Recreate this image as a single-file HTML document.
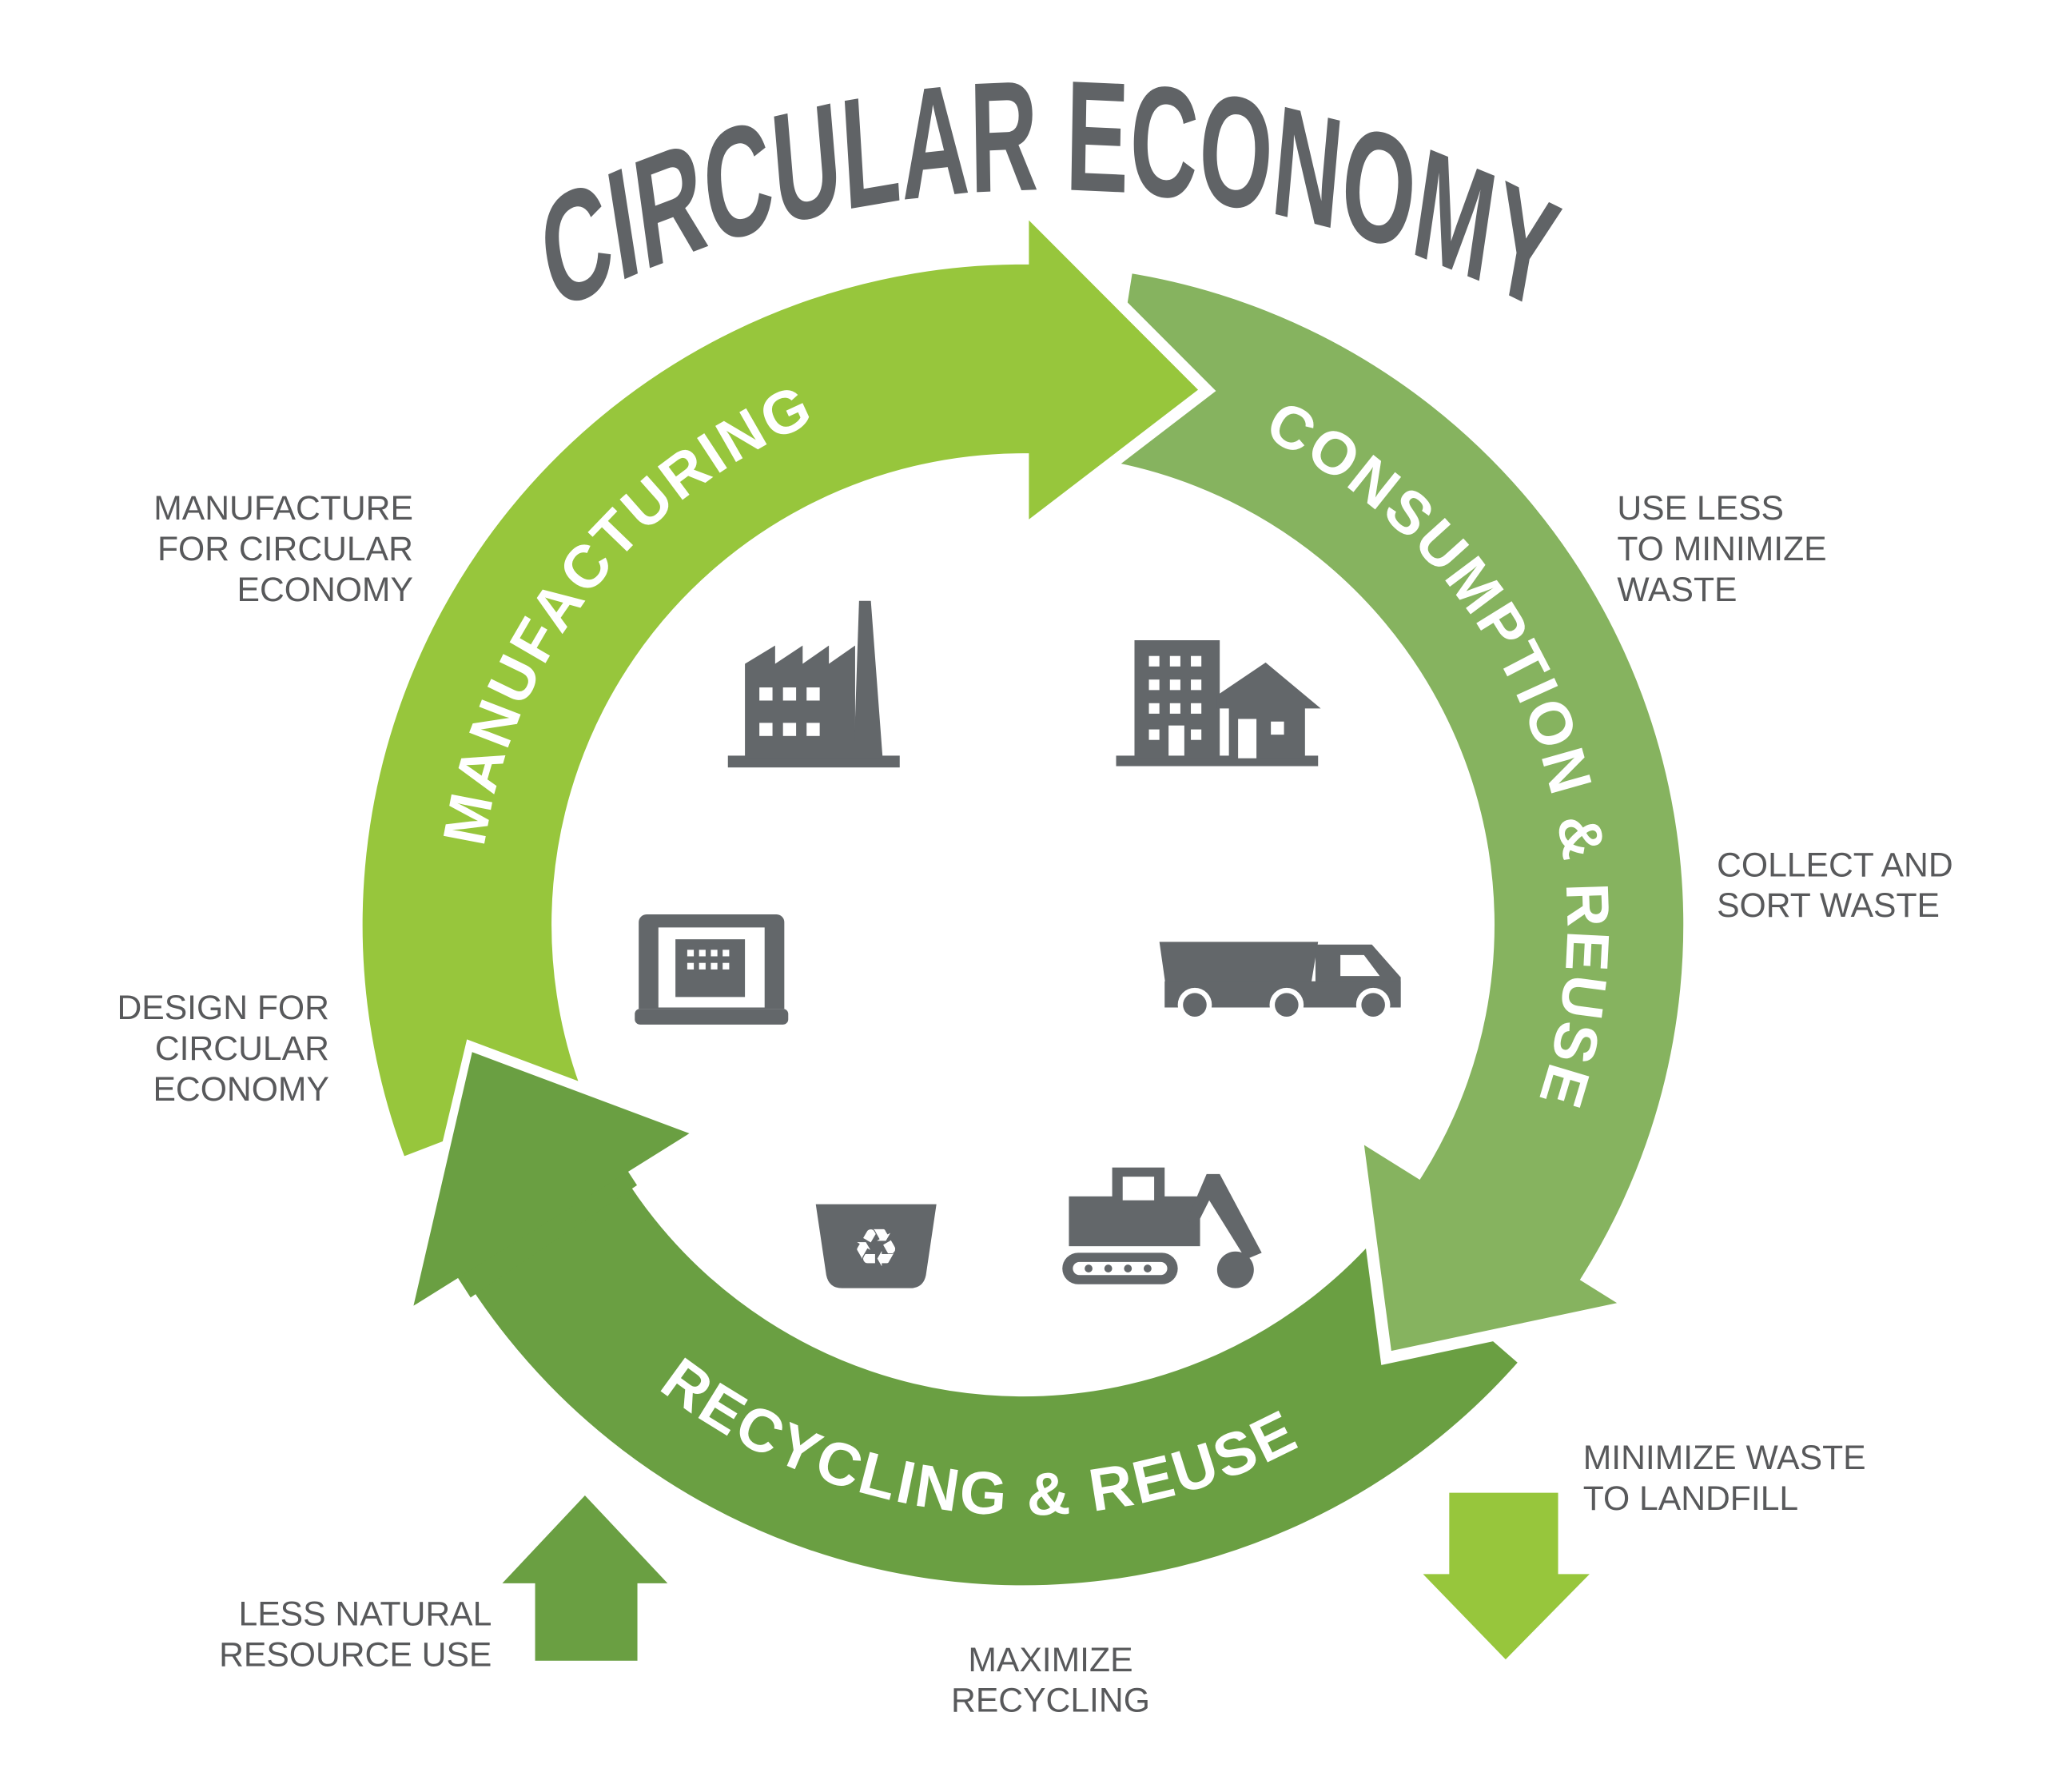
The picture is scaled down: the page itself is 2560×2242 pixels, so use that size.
<!DOCTYPE html>
<html><head><meta charset="utf-8"><style>
html,body{margin:0;padding:0;background:#fff;}
svg{display:block;}
.lab{font-family:"Liberation Sans",sans-serif;font-size:26px;fill:#58595b;}
.ring{font-family:"Liberation Sans",sans-serif;font-weight:bold;font-size:46px;fill:#fff;letter-spacing:2px;}
.title{font-family:"Liberation Sans",sans-serif;font-weight:bold;font-size:120px;fill:#606366;}
</style></head><body>
<svg id="s" width="2560" height="2242" viewBox="0 0 1560 1366" xmlns="http://www.w3.org/2000/svg">
<defs>
<path id="tp" d="M 650 257 A 1341.7 805 0 0 1 2016.7 257" fill="none"/>
<path id="mp" fill="none"/>
<path id="cp" fill="none"/>
<path id="rp" fill="none"/>
</defs>
<g id="arrows"></g>
<g transform="scale(0.6,1)">
<text class="title"><textPath href="#tp" startOffset="50%" text-anchor="middle">CIRCULAR ECONOMY</textPath></text>
</g>
<text class="ring"><textPath href="#mp" startOffset="50%" text-anchor="middle">MANUFACTURING</textPath></text>
<text class="ring"><textPath href="#cp" startOffset="50%" text-anchor="middle">CONSUMPTION &amp; REUSE</textPath></text>
<text class="ring"><textPath href="#rp" startOffset="50%" text-anchor="middle">RECYCLING &amp; REUSE</textPath></text>

<g class="lab">
<text x="315" y="396" text-anchor="end">MANUFACTURE</text>
<text x="315" y="427" text-anchor="end">FOR CIRCULAR</text>
<text x="315" y="458" text-anchor="end">ECONOMY</text>
<text x="251" y="777" text-anchor="end">DESIGN FOR</text>
<text x="251" y="808" text-anchor="end">CIRCULAR</text>
<text x="251" y="839" text-anchor="end">ECONOMY</text>
<text x="375" y="1239" text-anchor="end">LESS NATURAL</text>
<text x="375" y="1270" text-anchor="end">RESOURCE USE</text>
<text x="1233" y="396">USE LESS</text>
<text x="1233" y="427">TO MINIMIZE</text>
<text x="1233" y="458">WASTE</text>
<text x="1309" y="668">COLLECT AND</text>
<text x="1309" y="699">SORT WASTE</text>
<text x="1207" y="1120">MINIMIZE WASTE</text>
<text x="1207" y="1151">TO LANDFILL</text>
<text x="801" y="1274" text-anchor="middle">MAXIMIZE</text>
<text x="801" y="1305" text-anchor="middle">RECYCLING</text>
</g>

<polygon points="446,1140 509,1207 486,1207 486,1266 408,1266 408,1207 383,1207" fill="#6a9f42"/>
<polygon points="1105,1138 1188,1138 1188,1200 1212,1200 1148,1265 1085,1200 1105,1200" fill="#97c63c"/>

<g fill="#63676a">
<rect x="555" y="576" width="131" height="9"/>
<polygon points="568,578 568,506 591,492 591,506 612,492 612,506 632,492 632,506 652,492 652,578"/>
<polygon points="651,578 655,458 664,458 673,578"/>
<g fill="#fff"><rect x="579" y="524" width="10" height="10"/><rect x="597" y="524" width="10" height="10"/><rect x="615" y="524" width="10" height="10"/><rect x="579" y="551" width="10" height="10"/><rect x="597" y="551" width="10" height="10"/><rect x="615" y="551" width="10" height="10"/></g>
<rect x="851" y="576" width="154" height="8"/>
<rect x="865" y="488" width="65" height="90"/>
<polygon points="928,530 965,505 1007,540 995,540 995,578 937,578 937,540 928,540"/>
<g fill="#fff"><rect x="876" y="500" width="8" height="8"/><rect x="892" y="500" width="8" height="8"/><rect x="908" y="500" width="8" height="8"/><rect x="876" y="518" width="8" height="8"/><rect x="892" y="518" width="8" height="8"/><rect x="908" y="518" width="8" height="8"/><rect x="876" y="536" width="8" height="8"/><rect x="892" y="536" width="8" height="8"/><rect x="908" y="536" width="8" height="8"/><rect x="876" y="556" width="8" height="8"/><rect x="891" y="553" width="12" height="23"/><rect x="908" y="556" width="8" height="8"/><rect x="944" y="548" width="14" height="30"/><rect x="969" y="550" width="10" height="10"/></g>
<path d="M493,697 h99 a6,6 0 0 1 6,6 v66 h-111 v-66 a6,6 0 0 1 6,-6z M502,707 v61 h81 v-61z" fill-rule="evenodd"/>
<rect x="484" y="769" width="117" height="12" rx="4"/>
<rect x="515" y="716" width="53" height="44"/>
<g fill="#fff"><rect x="524" y="724" width="5" height="5"/><rect x="533" y="724" width="5" height="5"/><rect x="542" y="724" width="5" height="5"/><rect x="551" y="724" width="5" height="5"/><rect x="524" y="734" width="5" height="5"/><rect x="533" y="734" width="5" height="5"/><rect x="542" y="734" width="5" height="5"/><rect x="551" y="734" width="5" height="5"/></g>
<polygon points="884,718 1005,718 998,760 890,760"/>
<path d="M1003,720 h43 l22,25 v22 h-65z"/>
<rect x="888" y="748" width="180" height="20"/>
<polygon points="1022,728 1040,728 1052,744 1022,744" fill="#fff"/>
<circle cx="911" cy="766" r="13" fill="#fff"/><circle cx="911" cy="766" r="9"/>
<circle cx="981" cy="766" r="13" fill="#fff"/><circle cx="981" cy="766" r="9"/>
<circle cx="1047" cy="766" r="13" fill="#fff"/><circle cx="1047" cy="766" r="9"/>
<path d="M622,918 h92 l-8,54 q-2,10 -12,10 h-52 q-10,0 -12,-10z"/>
<text x="668" y="965" font-size="40" fill="#fff" text-anchor="middle" font-family="DejaVu Sans,sans-serif">♻</text>
<rect x="848" y="890" width="40" height="35"/>
<rect x="815" y="912" width="100" height="38"/>
<polygon points="905,930 920,895 930,895 962,955 950,960 922,915 912,935"/>
<circle cx="942" cy="968" r="14"/>
<rect x="810" y="955" width="88" height="24" rx="12"/>
</g>
<g fill="#fff"><rect x="856" y="897" width="24" height="18"/><rect x="818" y="962" width="72" height="10" rx="5"/></g>
<g fill="#63676a"><circle cx="830" cy="967" r="3"/><circle cx="845" cy="967" r="3"/><circle cx="860" cy="967" r="3"/><circle cx="875" cy="967" r="3"/></g>
</svg>
<script>
var cx=780,cy=705,R=508,r=355,mid=431;
var NS="http://www.w3.org/2000/svg";
function P(a,rad){var t=a*Math.PI/180;return (cx+rad*Math.cos(t)).toFixed(1)+","+(cy+rad*Math.sin(t)).toFixed(1);}
function add(d,col,stroke){
 var p=document.createElementNS(NS,"path");
 p.setAttribute("d",d);p.setAttribute("fill",col);
 if(stroke){p.setAttribute("stroke","#fff");p.setAttribute("stroke-width","9");p.setAttribute("stroke-linejoin","miter");}
 document.getElementById("arrows").appendChild(p);
}
function arrow(a0,a1,a2,col){
 var big=(a1-a0)>180?1:0;
 add("M"+P(a0,R)+" A"+R+" "+R+" 0 "+big+" 1 "+P(a1,R)+" L"+P(a1,R+40)+" L"+P(a2,mid)+" L"+P(a1,r-55)+" L"+P(a1,r)+" A"+r+" "+r+" 0 "+big+" 0 "+P(a0,r)+" Z",col,true);
}
arrow(41,148,167,"#6a9f42");
arrow(279,392,410,"#86b35f");
arrow(159,270,289,"#97c63c");
// redraw recycling head on top (fill only, then stroke its two slanted edges)
add("M"+P(146,R)+" L"+P(148,R)+" L"+P(148,R+40)+" L"+P(167,mid)+" L"+P(148,r-55)+" L"+P(148,r)+" L"+P(146,r)+" Z","#6a9f42",false);
add("M"+P(148,R+44)+" L"+P(167.5,mid)+" L"+P(148,r-59),"none",true);
add("M"+P(148,R+40)+" L"+P(167,mid)+" L"+P(148,r-55)+" Z","#6a9f42",false);
function arcPath(a0,a1,rad,sweep){
 return "M"+P(a0,rad)+" A"+rad+" "+rad+" 0 0 "+sweep+" "+P(a1,rad);
}
document.getElementById("mp").setAttribute("d",arcPath(172,264,415,1));
document.getElementById("cp").setAttribute("d",arcPath(285,390,415,1));
document.getElementById("rp").setAttribute("d",arcPath(146,44,450,0));
</script>
</body></html>
